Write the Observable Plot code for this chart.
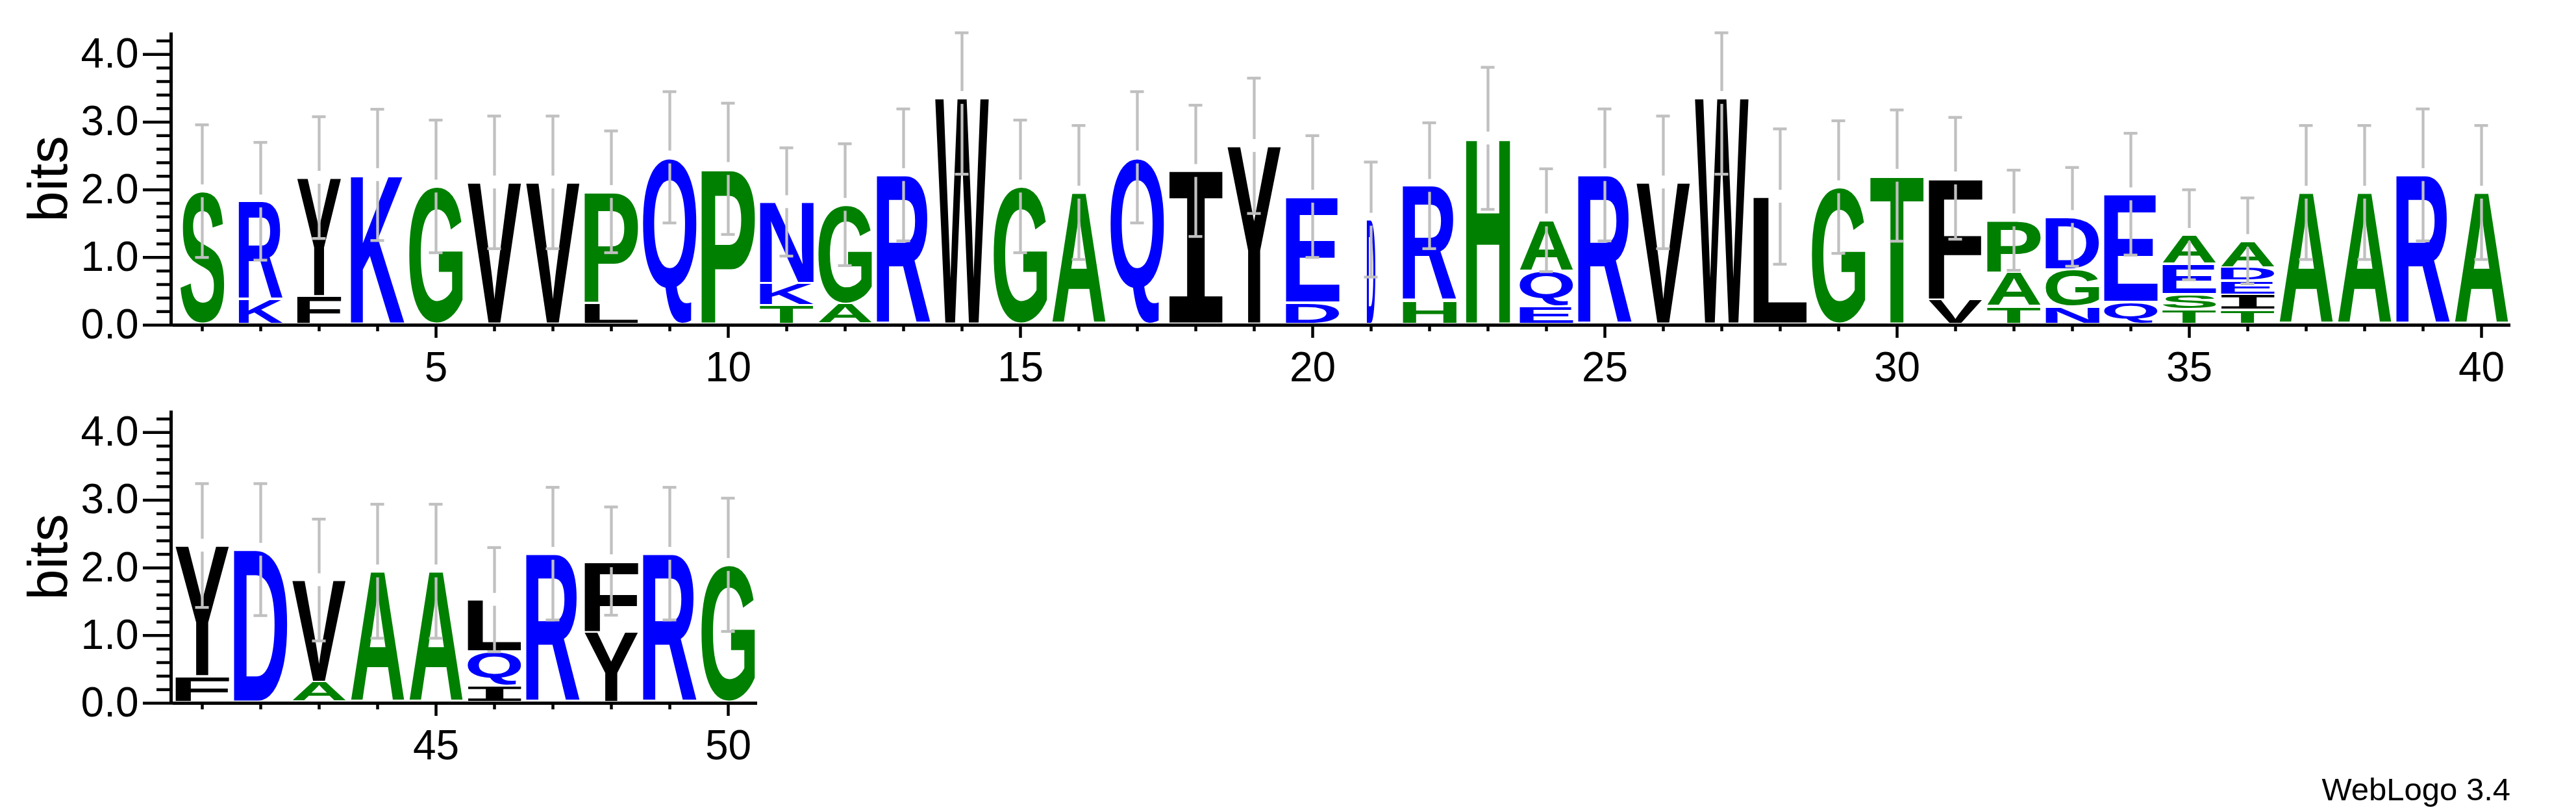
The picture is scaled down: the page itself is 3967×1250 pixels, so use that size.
<!DOCTYPE html>
<html>
<head>
<meta charset="utf-8">
<script src="https://cdn.jsdelivr.net/npm/d3@7"></script>
<script src="https://cdn.jsdelivr.net/npm/@observablehq/plot@0.6"></script>
<style>
html, body { margin: 0; padding: 0; background: #ffffff; }
body { width: 3967px; height: 1250px; position: relative; overflow: hidden; font-family: "Liberation Sans", Arial, sans-serif; }
#row1 { position: absolute; left: 0; top: 0; }
#row2 { position: absolute; left: 0; top: 582px; }
#row1 svg, #row2 svg { overflow: visible; }
#caption { position: absolute; right: 101px; top: 1191px; font-size: 49px; line-height: 1; color: #000; white-space: nowrap; }
</style>
</head>
<body>
<div id="row1"></div>
<div id="row2"></div>
<div id="caption">WebLogo 3.4</div>
<script>
// ---- data ----
const positions = [1,2,3,4,5,6,7,8,9,10,11,12,13,14,15,16,17,18,19,20,21,22,23,24,25,26,27,28,29,30,31,32,33,34,35,36,37,38,39,40,41,42,43,44,45,46,47,48,49,50];
// letters of each stack, bottom to top
const stackLetters = ["S","KR","FY","K","G","V","V","LP","Q","P","TKN","AG","R","W","G","A","Q","I","Y","DE","D","HR","H","EQA","R","V","W","L","G","T","VF","TAP","NGD","QE","TSEA","TIEDA","A","A","R","A","FY","D","AV","A","A","IQL","R","YF","R","G"];
// bits of each letter, bottom to top
const stackBits = [[1.98],[0.38,1.45],[0.43,1.75],[2.22],[2.05],[2.11],[2.11],[0.33,1.64],[2.48],[2.31],[0.30,0.32,1.20],[0.32,1.46],[2.22],[3.36],[2.05],[1.96],[2.48],[2.28],[2.65],[0.34,1.56],[1.56],[0.36,1.70],[2.76],[0.28,0.52,0.75],[2.22],[2.11],[3.36],[1.90],[2.04],[2.21],[0.38,1.79],[0.28,0.50,0.77],[0.28,0.55,0.77],[0.345,1.59],[0.24,0.22,0.445,0.43],[0.23,0.225,0.205,0.195,0.39],[1.96],[1.96],[2.22],[1.96],[0.40,1.93],[2.27],[0.32,1.50],[1.95],[1.95],[0.26,0.51,0.76],[2.21],[1.06,1.04],[2.21],[2.045]];
// error bar half-widths (bits)
const errBits = [0.98,0.87,0.90,0.97,0.98,0.98,0.98,0.90,0.97,0.97,0.80,0.90,0.975,1.13,0.98,0.99,0.97,0.97,1.0,0.90,0.85,0.93,1.05,0.76,0.975,0.98,1.13,1.0,0.98,0.97,0.90,0.74,0.73,0.90,0.665,0.635,0.99,0.99,0.975,0.99,0.915,0.975,0.90,0.99,0.99,0.77,0.98,0.80,0.98,0.985];
// fraction of the column occupied (stack width scaling)
const occupancy = [0.82,0.82,0.82,1,1,1,1,1,1,1,1,1,1,1,1,1,1,1,1,1,0.16,1,0.82,1,1,1,1,1,1,1,1,1,1,1,1,1,1,1,1,1,1,1,1,1,1,1,1,1,1,1];
const yMax = 4.32;
const yMajorTicks = [0,1,2,3,4];
const yMinorTicks = [0.2,0.4,0.6,0.8,1.2,1.4,1.6,1.8,2.2,2.4,2.6,2.8,3.2,3.4,3.6,3.8,4.2];
const row1Labels = [5,10,15,20,25,30,35,40];
const row2Labels = [45,50];
const hydrophilic = "RKDENQ", neutral = "SGHTAP"; // others hydrophobic (black)
const colorOf = (c) => hydrophilic.includes(c) ? "#0000ff" : neutral.includes(c) ? "#008000" : "#000000";

const FONT = "'Liberation Sans', Arial, sans-serif";
const SERIF_I_FONT = "'DejaVu Sans Mono', monospace"; // slab "I" like the reference
const GLYPH_FRAC = 0.917;
const ERR_GAP = 0.095;
const CAP_HALF = 0.117;

// glyph ink metrics
const canvas = document.createElement("canvas");
const ctx = canvas.getContext("2d");
const metrics = {};
for (const L of new Set(stackLetters.join(""))) {
  ctx.font = `bold 200px ${L === "I" ? SERIF_I_FONT : FONT}`;
  const m = ctx.measureText(L);
  const left = -m.actualBoundingBoxLeft, right = m.actualBoundingBoxRight;
  metrics[L] = {w: right - left, cx: (left + right) / 2, descent: m.actualBoundingBoxDescent, h: m.actualBoundingBoxAscent + m.actualBoundingBoxDescent};
}

function logoRow(lo, hi, width, labelTicks) {
  const letters = [], segs = [], caps = [];
  positions.forEach((p, i) => {
    if (p < lo || p > hi) return;
    let y = 0;
    const ls = stackLetters[i], bs = stackBits[i];
    for (let k = 0; k < ls.length; k++) {
      letters.push({pos: p, letter: ls[k], y0: y, y1: y + bs[k], w: occupancy[i] * GLYPH_FRAC});
      y += bs[k];
    }
    const top = Math.min(y + errBits[i], yMax), bot = y - errBits[i];
    segs.push({pos: p, a: y + ERR_GAP, b: top});
    segs.push({pos: p, a: bot, b: y - ERR_GAP});
    caps.push({y: top, xa: p - CAP_HALF, xb: p + CAP_HALF});
    caps.push({y: bot, xa: p - CAP_HALF, xb: p + CAP_HALF});
  });
  const minorX = positions.filter(p => p >= lo && p <= hi && !labelTicks.includes(p));

  const plot = Plot.plot({
    width, height: 582,
    marginLeft: 266, marginRight: width - 266 - (hi - lo + 1) * 90, marginTop: 50, marginBottom: 82,
    x: {domain: [lo - 0.5, hi + 0.5], label: null},
    y: {domain: [0, yMax], label: null},
    color: {type: "identity"},
    style: {fontFamily: FONT, fontSize: "64px", background: "transparent", color: "black", overflow: "visible"},
    marks: [
      Plot.axisY({ticks: yMinorTicks, tickSize: 25, tickFormat: () => "", strokeWidth: 4.5, label: null}),
      Plot.axisY({ticks: yMajorTicks, tickSize: 46, tickPadding: 7, tickFormat: d3.format(".1f"), fontSize: 64, strokeWidth: 4.5, label: null}),
      Plot.axisX({ticks: minorX, tickSize: 10, tickFormat: () => "", strokeWidth: 4.5, label: null}),
      Plot.axisX({ticks: labelTicks, tickSize: 20, tickPadding: 21, tickFormat: d3.format("d"), fontSize: 64, strokeWidth: 4.5, label: null}),
      Plot.ruleY([0], {strokeWidth: 5}),
      Plot.ruleX([lo - 0.5], {y1: 0, y2: yMax, strokeWidth: 5, dx: -3}),
      Plot.text(["bits"], {frameAnchor: "left", rotate: -90, textAnchor: "middle", lineAnchor: "bottom", dx: -164, fontSize: 85}),
      Plot.text(letters, {x: "pos", y: "y0", text: "letter", fill: d => colorOf(d.letter), fontSize: 200, fontWeight: "bold", textAnchor: "start", lineAnchor: "bottom", ariaLabel: "letters"}),
      Plot.ruleX(segs, {x: "pos", y1: "a", y2: "b", stroke: "#c0c0c0", strokeWidth: 4.3}),
      Plot.ruleY(caps, {y: "y", x1: "xa", x2: "xb", stroke: "#c0c0c0", strokeWidth: 4.3})
    ]
  });

  // stretch each glyph to fill its box, using the plot's own scales
  const xs = plot.scale("x"), ys = plot.scale("y");
  const group = [...plot.querySelectorAll("g")].find(g =>
    g.getAttribute("aria-label") === "letters" || g.getAttribute("font-size") === "200" || g.getAttribute("font-size") === "200px");
  const texts = group ? [...group.querySelectorAll("text")] : [];
  texts.forEach((el, i) => {
    const d = letters[i];
    const m = metrics[d.letter];
    const W = xs.apply(d.pos + d.w / 2) - xs.apply(d.pos - d.w / 2);
    const yb = ys.apply(d.y0) - (d.y0 === 0 ? 4 : 1.5);
    const yt = ys.apply(d.y1) + 1.5;
    const H = Math.max(0.5, yb - yt);
    const X = xs.apply(d.pos);
    if (d.letter === "I") el.setAttribute("font-family", SERIF_I_FONT);
    el.removeAttribute("x"); el.removeAttribute("y"); el.removeAttribute("dy");
    el.setAttribute("transform", `translate(${X},${yb}) scale(${W / m.w},${H / m.h}) translate(${-m.cx},${-m.descent})`);
  });
  return plot;
}

document.getElementById("row1").appendChild(logoRow(1, 40, 3967, row1Labels));
document.getElementById("row2").appendChild(logoRow(41, 50, 1267, row2Labels));
</script>
</body>
</html>
